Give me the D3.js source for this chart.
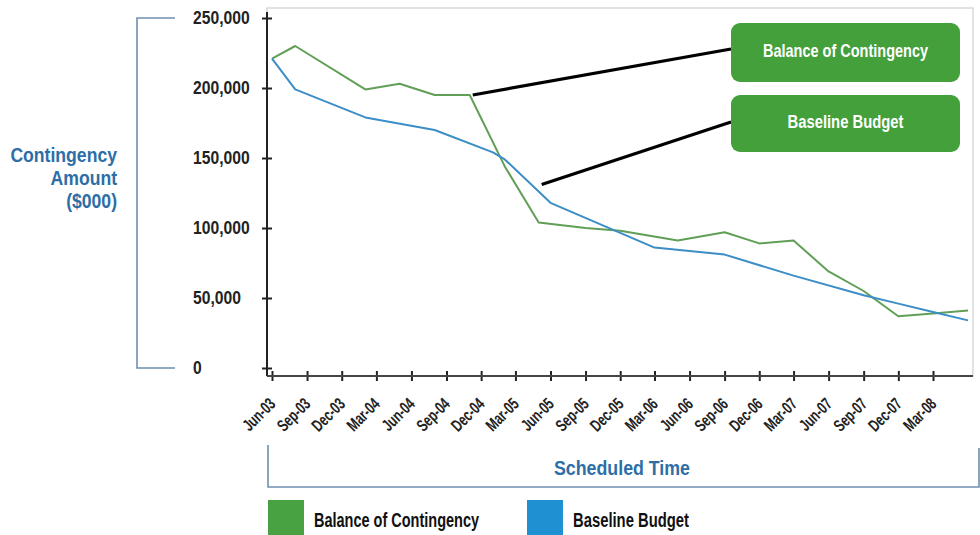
<!DOCTYPE html>
<html>
<head>
<meta charset="utf-8">
<script src="https://cdn.jsdelivr.net/npm/d3@7"></script>
<style>
  html, body { margin: 0; padding: 0; background: #ffffff; }
  svg { display: block; }
  text { font-family: "Liberation Sans", Arial, sans-serif; font-weight: bold; }
</style>
</head>
<body>
<svg id="chart" width="980" height="535"></svg>
<script>
// Quarterly tick labels along the schedule axis
const tickLabels = ["Jun-03","Sep-03","Dec-03","Mar-04","Jun-04","Sep-04","Dec-04","Mar-05","Jun-05","Sep-05",
                    "Dec-05","Mar-06","Jun-06","Sep-06","Dec-06","Mar-07","Jun-07","Sep-07","Dec-07","Mar-08"];
const yTicks = [0, 50000, 100000, 150000, 200000, 250000];

// Balance of Contingency ($000)
const balanceDates  = ["2003-06","2003-08","2004-02","2004-05","2004-08","2004-11","2005-02","2005-05","2005-09","2005-12",
                       "2006-05","2006-09","2006-12","2007-03","2007-06","2007-09","2007-12","2008-03","2008-06"];
const balanceValues = [221000, 230000, 199000, 203000, 195000, 195000, 144000, 104000, 100000, 98000,
                       91000, 97000, 89000, 91000, 69000, 55000, 37000, 39000, 41000];

// Baseline Budget ($000)
const baselineDates  = ["2003-06","2003-08","2004-02","2004-08","2005-01","2005-02","2005-06","2006-03","2006-09",
                        "2007-03","2007-09","2007-12","2008-03","2008-06"];
const baselineValues = [221000, 199000, 179000, 170000, 154000, 149000, 118000, 86000, 81000,
                        66000, 52000, 46000, 40000, 34000];

// Series names, callout anchors (date, value on the line)
const seriesNames = ["Balance of Contingency", "Baseline Budget"];
const calloutDates = ["2004-11", "2005-05"];
const calloutValues = [195000, 131000];
const yTitleLines = ["Contingency", "Amount", "($000)"];
const xTitle = "Scheduled Time";
const domainStart = "2003-06-01";
const domainEnd = "2008-06-14";

const lineColors = ["#619f57", "#3b8ec6"];
const swatchColors = ["#48a241", "#1f90d2"];
const boxColor = "#43a03b";
const titleColor = "#2d6ea6";
const bracketColor = "#6f8fae";

const svg = d3.select("#chart");
const parseMonth = d3.timeParse("%Y-%m");
const parseDay = d3.timeParse("%Y-%m-%d");
const parseTick = d3.timeParse("%b-%y");
const fmtTick = d3.timeFormat("%b-%y");

// Condensed look: squeeze each text horizontally by a factor, or to a set width
function squeeze(sel, factor) {
  sel.each(function () {
    const w = this.getComputedTextLength();
    d3.select(this).attr("textLength", w * factor).attr("lengthAdjust", "spacingAndGlyphs");
  });
}
function fitWidth(sel, width) {
  sel.attr("textLength", width).attr("lengthAdjust", "spacingAndGlyphs");
}

const plot = { left: 267, right: 973, top: 8, zeroY: 368, topY: 18, axisY: 376, labelX: 193 };

const x = d3.scaleTime()
  .domain([parseDay(domainStart), parseDay(domainEnd)])
  .range([plot.left + 5, plot.right]);
const y = d3.scaleLinear()
  .domain([0, 250000])
  .range([plot.zeroY, plot.topY]);

// Plot frame
svg.append("rect")
  .attr("x", plot.left).attr("y", plot.top)
  .attr("width", plot.right - plot.left).attr("height", plot.axisY - plot.top)
  .attr("fill", "none").attr("stroke", "#cfcfcf").attr("stroke-width", 1.2);

// Series lines
const line = d3.line().x(d => x(d.date)).y(d => y(d.value));
const series = [
  balanceDates.map((d, i) => ({ date: parseMonth(d), value: balanceValues[i] })),
  baselineDates.map((d, i) => ({ date: parseMonth(d), value: baselineValues[i] }))
];
series.forEach((pts, i) => {
  svg.append("path")
    .datum(pts)
    .attr("fill", "none")
    .attr("stroke", lineColors[i])
    .attr("stroke-width", 2)
    .attr("stroke-linejoin", "round")
    .attr("d", line);
});

// Y axis: labels sit left-aligned in a column
const yAxis = svg.append("g")
  .attr("transform", `translate(${plot.left},0)`)
  .call(d3.axisLeft(y).tickValues(yTicks).tickFormat(d3.format(",")).tickSize(0));
yAxis.select(".domain").remove();
yAxis.append("line")
  .attr("x1", 0).attr("x2", 0).attr("y1", plot.top + 4).attr("y2", plot.axisY)
  .attr("stroke", "#222").attr("stroke-width", 2);
yAxis.selectAll(".tick").append("line")
  .attr("x1", -5).attr("x2", 5).attr("stroke", "#222").attr("stroke-width", 2);
yAxis.selectAll(".tick text")
  .attr("fill", "#222").attr("font-size", 18).attr("font-family", null)
  .attr("text-anchor", "start")
  .attr("x", plot.labelX - plot.left)
  .call(squeeze, 0.87);

// X axis
const xAxis = svg.append("g")
  .attr("transform", `translate(0,${plot.axisY})`)
  .call(d3.axisBottom(x).tickValues(tickLabels.map(parseTick)).tickFormat(fmtTick).tickSize(0));
xAxis.select(".domain").remove();
xAxis.append("line")
  .attr("x1", plot.left).attr("x2", plot.right).attr("y1", 0).attr("y2", 0)
  .attr("stroke", "#444").attr("stroke-width", 2);
xAxis.selectAll(".tick").append("line")
  .attr("y1", -5).attr("y2", 5).attr("stroke", "#222").attr("stroke-width", 2);
xAxis.selectAll(".tick text")
  .attr("fill", "#222").attr("font-size", 17).attr("font-family", null)
  .attr("text-anchor", "end")
  .attr("y", 0)
  .attr("dy", null)
  .attr("transform", "translate(4,29) rotate(-45)")
  .call(squeeze, 0.7);

// Y axis title with bracket
svg.append("path")
  .attr("d", `M175,${plot.topY}H137V${plot.zeroY}H175`)
  .attr("fill", "none").attr("stroke", bracketColor).attr("stroke-width", 1.6);
yTitleLines.forEach((t, i) => {
  svg.append("text")
    .attr("x", 117).attr("y", 162 + i * 23)
    .attr("text-anchor", "end").attr("fill", titleColor).attr("font-size", 20)
    .text(t)
    .call(squeeze, 0.88);
});

// X axis title with bracket
svg.append("path")
  .attr("d", `M268,445V487H979V448`)
  .attr("fill", "none").attr("stroke", bracketColor).attr("stroke-width", 1.6);
svg.append("text")
  .attr("x", 622).attr("y", 475).attr("text-anchor", "middle")
  .attr("fill", titleColor).attr("font-size", 21)
  .text(xTitle)
  .call(fitWidth, 136);

// Callout boxes with leader lines
const boxes = [
  { x: 731, y: 23, w: 229, h: 59, ly: 49, tw: 165 },
  { x: 731, y: 95, w: 229, h: 57, ly: 122, tw: 116 }
];
boxes.forEach((b, i) => {
  svg.append("line")
    .attr("x1", x(parseMonth(calloutDates[i])) + 3).attr("y1", y(calloutValues[i]))
    .attr("x2", b.x).attr("y2", b.ly)
    .attr("stroke", "#000").attr("stroke-width", 3.2);
  svg.append("rect")
    .attr("x", b.x).attr("y", b.y).attr("width", b.w).attr("height", b.h)
    .attr("rx", 9).attr("fill", boxColor);
  svg.append("text")
    .attr("x", b.x + b.w / 2).attr("y", b.y + b.h / 2 + 4)
    .attr("text-anchor", "middle").attr("fill", "#ffffff")
    .attr("font-size", 19)
    .text(seriesNames[i])
    .call(fitWidth, b.tw);
});

// Legend
const legend = [
  { x: 268, tw: 165 },
  { x: 527, tw: 116 }
];
seriesNames.forEach((name, i) => {
  svg.append("rect")
    .attr("x", legend[i].x).attr("y", 500).attr("width", 36).attr("height", 40)
    .attr("fill", swatchColors[i]);
  svg.append("text")
    .attr("x", legend[i].x + 46).attr("y", 527)
    .attr("fill", "#111").attr("font-size", 20)
    .text(name)
    .call(fitWidth, legend[i].tw);
});
</script>
</body>
</html>
